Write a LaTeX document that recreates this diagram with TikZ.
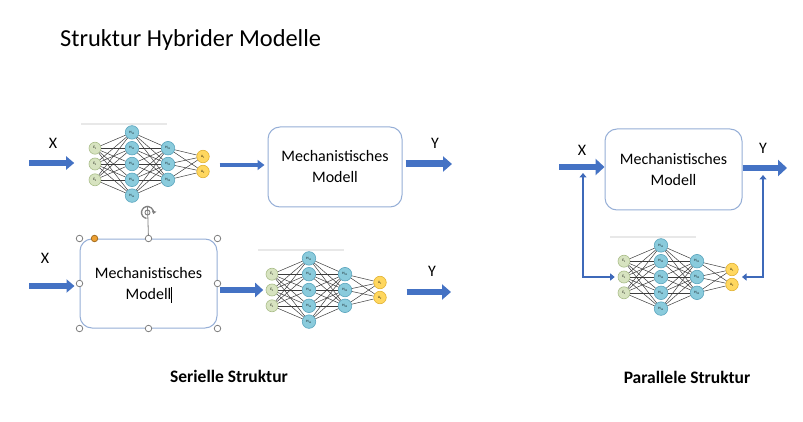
\documentclass[tikz,border=0pt]{standalone}
\usepackage{fontspec}
\setmainfont{Carlito}
\usetikzlibrary{arrows.meta}
\definecolor{arrowblue}{RGB}{68,114,196}
\definecolor{fbblue}{RGB}{62,105,185}
\definecolor{boxborder}{RGB}{150,175,215}
\definecolor{egreen}{RGB}{215,227,192}
\definecolor{egreenb}{RGB}{170,190,138}
\definecolor{hblue}{RGB}{138,203,220}
\definecolor{hblueb}{RGB}{90,165,190}
\definecolor{ayellow}{RGB}{255,215,95}
\definecolor{ayellowb}{RGB}{225,178,50}
\definecolor{handlegray}{RGB}{128,128,128}
\definecolor{handleorange}{RGB}{237,160,50}
\definecolor{netgray}{RGB}{60,60,60}
\definecolor{topline}{RGB}{232,232,232}
\tikzset{
  mbox/.style={draw=boxborder, line width=1pt, rounded corners=12pt, fill=white, align=center,
    font=\fontsize{16}{21}\selectfont, inner sep=0pt},
  lbl/.style={font=\fontsize{16}{19}\selectfont, inner sep=0pt},
  blk/.style n args={3}{draw=arrowblue, line width=#1, -{Triangle[length=#2, width=#3]}},
  fb/.style={draw=fbblue, line width=2.3pt, {Triangle[length=4.5pt, width=7pt]}-{Triangle[length=4.5pt, width=7pt]}},
  neuron/.style={circle, inner sep=0pt, line width=0.6pt, font=\fontsize{3.5}{4}\selectfont},
  enode/.style={neuron, draw=egreenb, fill=egreen, minimum size=12pt},
  hnode/.style={neuron, draw=hblueb, fill=hblue, minimum size=13.5pt},
  anode/.style={neuron, draw=ayellowb, fill=ayellow, minimum size=12.5pt},
  edge/.style={draw=netgray, line width=0.5pt},
  handle/.style={circle, draw=handlegray, fill=white, line width=0.8pt, minimum size=6.5pt, inner sep=0pt},
  nn/.pic={
    \draw[topline, line width=1.5pt] (-14,-40) -- (72,-40);
    \foreach \i in {1,2,3} \node[enode] (-E\i) at (0,{(\i-2)*15.8}) {E\textsubscript{\i}};
    \foreach \i in {1,...,5} \node[hnode] (-H\i) at (37,{(\i-3)*15.8}) {H\textsubscript{1\i}};
    \foreach \i in {1,2,3} \node[hnode] (-G\i) at (73,{(\i-2)*15.8}) {H\textsubscript{2\i}};
    \foreach \i in {1,2} \node[anode] (-A\i) at (108,{(\i-1.5)*15}) {A\textsubscript{\i}};
    \coordinate (-Ac) at (108,0);
    \foreach \i in {1,2,3} \foreach \j in {1,...,5} \draw[edge] (-E\i) -- (-H\j);
    \foreach \i in {1,...,5} \foreach \j in {1,2,3} \draw[edge] (-H\i) -- (-G\j);
    \foreach \i in {1,2,3} \foreach \j in {1,2} \draw[edge] (-G\i) -- (-A\j);
  }
}
\begin{document}
\begin{tikzpicture}[x=1pt,y=-1pt]
\fill[white] (0,0) rectangle (803,422);
\useasboundingbox (0,0) rectangle (803,422);

% title
\node[anchor=west, font=\fontsize{24.4}{28}\selectfont, inner sep=0pt] (title) at (60,40) {Struktur Hybrider Modelle};

% ---------- serial, top row ----------
\pic (n1) at (95,164) {nn};
\node[mbox, minimum width=134pt, minimum height=80pt] (box1) at (335,167) {Mechanistisches\\Modell};
\coordinate (x1) at (29,163);
\coordinate (y1) at (452,164);
\node[lbl] (lx1) at (53,143) {X};
\node[lbl] (ly1) at (435,143) {Y};
\draw[blk={5.5pt}{8pt}{13pt}, shorten >=14.5pt] (x1) -- (n1-E2.west |- x1);
\draw[blk={4pt}{7pt}{10pt}, shorten <=10pt, shorten >=3pt] (n1-A1.east |- 0,165) -- (box1.west |- 0,165);
\draw[blk={7pt}{9pt}{15pt}, shorten <=3pt] (box1.east |- y1) -- (y1);

% ---------- serial, bottom row ----------
\node[mbox, minimum width=137pt, minimum height=89pt] (box2) at (148.5,283.5) {Mechanistisches\\Modell};
\pic (n2) at (272,290) {nn};
\coordinate (x2) at (29,286);
\coordinate (y2) at (451,292);
\node[lbl] (lx2) at (45,258) {X};
\node[lbl] (ly2) at (432,271) {Y};
\draw[blk={5.5pt}{8pt}{13pt}, shorten >=5pt] (x2) -- (box2.west |- x2);
\draw[blk={6pt}{8pt}{14pt}, shorten <=2pt, shorten >=2.5pt] (box2.east |- n2-E2) -- (n2-E2.west);
\draw[blk={6.5pt}{9pt}{15pt}, shorten <=20pt] (n2-A1.east |- y2) -- (y2);

% selection handles, rotation icon and text cursor
\foreach \a in {north west, north, north east, west, east, south west, south, south east}
  \node[handle] (hd-\a) at (box2.\a) {};
\node[handle, fill=handleorange, draw=handleorange!70!black] (hdo) at ([xshift=15pt]box2.north west) {};
\coordinate (rot) at (147.5,212.5);
\draw[handlegray, line width=0.8pt] (hd-north) -- ([yshift=6.5pt]rot);
\draw[handlegray, line width=1.3pt, -{Triangle[length=3pt, width=4.5pt]}] ([shift={(rot)}]-100:6pt) arc (-100:-375:6pt);
\draw[handlegray, line width=0.9pt] (rot) circle (2.5pt);
\draw[black, line width=0.9pt] (171,287) -- (171,303);

% ---------- parallel ----------
\node[mbox, minimum width=137pt, minimum height=81pt] (box3) at (673.5,169.5) {Mechanistisches\\Modell};
\pic (n3) at (624,277) {nn};
\coordinate (x3) at (559,167);
\coordinate (y3) at (787,168);
\node[lbl] (lx3) at (582,150) {X};
\node[lbl] (ly3) at (763,148) {Y};
\draw[blk={6pt}{9pt}{16pt}] (x3) -- (box3.west |- x3);
\draw[blk={6.5pt}{9pt}{16pt}] (box3.east |- y3) -- (y3);
\coordinate (fbl) at (583,173);
\coordinate (fbr) at (763,175);
\draw[fb, shorten >=3pt] (fbl) |- (n3-E2.west);
\draw[fb, shorten >=10pt] (fbr) |- (n3-Ac);

% captions
\node[font=\bfseries\fontsize{17.5}{21}\selectfont, inner sep=0pt] (ser) at (229,376) {Serielle Struktur};
\node[font=\bfseries\fontsize{17.5}{21}\selectfont, inner sep=0pt] (par) at (687,377) {Parallele Struktur};
\end{tikzpicture}
\end{document}
